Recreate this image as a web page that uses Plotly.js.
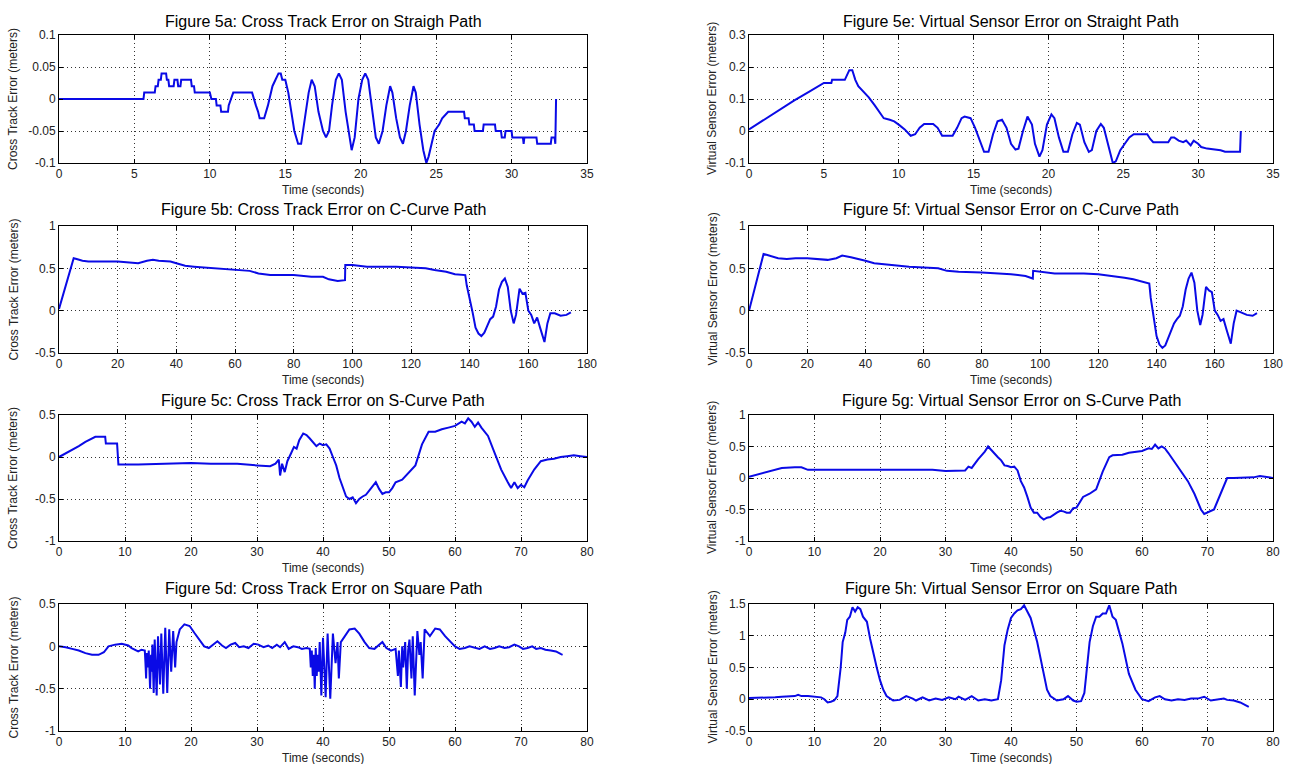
<!DOCTYPE html>
<html>
<head>
<meta charset="utf-8">
<script src="https://cdn.plot.ly/plotly-3.0.1.min.js"></script>
<style>html,body{margin:0;padding:0;background:#fff;}#chart{width:1293px;height:764px;}</style>
</head>
<body>
<div id="chart"></div>
<script>
// ---------- DATA ----------
const titles = [
  "Figure 5a: Cross Track Error on Straigh Path",
  "Figure 5b: Cross Track Error on C-Curve Path",
  "Figure 5c: Cross Track Error on S-Curve Path",
  "Figure 5d: Cross Track Error on Square Path",
  "Figure 5e: Virtual Sensor Error on Straight Path",
  "Figure 5f: Virtual Sensor Error on C-Curve Path",
  "Figure 5g: Virtual Sensor Error on S-Curve Path",
  "Figure 5h: Virtual Sensor Error on Square Path"
];
const xTitle = "Time (seconds)";
const yTitleLeft = "Cross Track Error (meters)";
const yTitleRight = "Virtual Sensor Error (meters)";

// 5a
const t5a = [0,5.6,5.65,6.35,6.4,6.55,6.6,6.75,6.8,7.1,7.15,7.25,7.3,7.6,7.65,7.85,7.9,8.05,8.1,8.75,8.8,8.95,9.0,10.0,10.1,10.4,10.45,10.7,10.75,11.2,11.25,11.4,11.55,12.8,12.9,13.05,13.2,13.3,13.6,13.7,13.85,13.95,14.05,14.15,14.35,14.55,14.7,14.8,15.0,15.1,15.2,15.4,15.6,15.85,16.05,16.3,16.55,16.75,16.95,17.2,17.5,17.7,17.9,18.1,18.35,18.55,18.75,19.0,19.25,19.4,19.6,19.85,20.1,20.3,20.5,20.75,21.0,21.2,21.45,21.7,21.95,22.1,22.35,22.6,22.8,23.0,23.25,23.5,23.65,23.9,24.15,24.35,24.5,24.7,24.9,25.2,25.4,25.8,26.85,26.9,27.15,27.2,27.5,27.55,28.1,28.15,28.9,28.95,29.3,29.35,29.55,29.6,30.0,30.05,30.75,30.8,30.85,31.65,31.7,32.6,32.65,32.85,32.9,32.95];
const e5a = [0,0,0.01,0.01,0.02,0.02,0.03,0.03,0.04,0.04,0.03,0.03,0.02,0.02,0.03,0.03,0.02,0.02,0.03,0.03,0.02,0.02,0.01,0.01,0,0,-0.01,-0.01,-0.02,-0.02,-0.01,0,0.01,0.01,0,-0.01,-0.02,-0.03,-0.03,-0.02,-0.01,0,0.01,0.02,0.03,0.04,0.04,0.03,0.03,0.02,0.01,-0.02,-0.05,-0.07,-0.07,-0.03,0.01,0.03,0.02,-0.02,-0.05,-0.06,-0.05,-0.01,0.03,0.04,0.03,-0.02,-0.06,-0.08,-0.06,0,0.03,0.04,0.03,-0.02,-0.06,-0.07,-0.05,-0.01,0.02,0.01,-0.03,-0.06,-0.07,-0.05,-0.01,0.02,0.01,-0.04,-0.08,-0.1,-0.09,-0.07,-0.05,-0.04,-0.03,-0.02,-0.02,-0.03,-0.03,-0.04,-0.04,-0.05,-0.05,-0.04,-0.04,-0.05,-0.05,-0.06,-0.06,-0.05,-0.05,-0.06,-0.06,-0.07,-0.06,-0.06,-0.07,-0.07,-0.06,-0.06,-0.07,0];

// 5b
const t5b = [0,1,2,3,4,5,6,8,10,15,20,24,27,30,32,34,38,40,43,46,50,55,60,65,68,72,80,86,90,92,95,97.5,97.6,100,105,110,115,120,125,128,132,135,138.5,139,140,141,142,143,144,145,146,147,148,149,150,151,152,153,154,155,155.8,156.5,157,158,159,160,161,162,163,164,165.5,166.5,167.5,169,171,173,174.5];
const e5b = [0.02,0.14,0.26,0.38,0.5,0.62,0.61,0.59,0.58,0.58,0.58,0.57,0.56,0.59,0.6,0.59,0.58,0.56,0.53,0.52,0.51,0.49,0.48,0.47,0.44,0.42,0.42,0.4,0.4,0.37,0.35,0.36,0.54,0.54,0.52,0.52,0.52,0.51,0.5,0.48,0.46,0.43,0.42,0.3,0.15,-0.02,-0.2,-0.27,-0.3,-0.26,-0.18,-0.1,-0.07,0.05,0.25,0.34,0.38,0.28,0,-0.15,-0.05,0.15,0.26,0.2,0.21,0,-0.05,-0.15,-0.08,-0.2,-0.37,-0.15,-0.03,-0.03,-0.06,-0.05,-0.02];

// 5c
const t5c = [0,1,2,3,4,5,5.5,7,7.1,8.8,9.0,12,15,20,23,27,30,32,32.8,33.3,33.5,33.8,34.2,34.6,35.2,35.6,36.0,36.4,37,37.5,38,38.5,39,39.5,40,40.5,41,41.5,42,42.5,43,43.5,44,44.5,45,45.5,46,46.5,47,47.5,48,48.5,49,49.5,50,50.5,51,52,53,54,55,56,57,58,59,60,61,61.5,62,62.5,63,63.5,64,65,66,67,68,68.5,69,69.5,70,70.5,71,72,73,74,75,76,77,78,79,80];
const e5c = [0,0.04,0.09,0.13,0.18,0.22,0.24,0.24,0.16,0.16,-0.09,-0.09,-0.08,-0.07,-0.08,-0.08,-0.1,-0.11,-0.08,-0.03,-0.22,-0.08,-0.18,-0.05,0.05,0.12,0.1,0.2,0.28,0.26,0.22,0.18,0.13,0.16,0.14,0.15,0.1,0,-0.1,-0.25,-0.35,-0.47,-0.5,-0.48,-0.55,-0.5,-0.47,-0.45,-0.4,-0.35,-0.3,-0.38,-0.44,-0.42,-0.42,-0.37,-0.3,-0.27,-0.18,-0.1,0.15,0.3,0.3,0.33,0.35,0.37,0.42,0.4,0.46,0.42,0.36,0.41,0.35,0.25,0.05,-0.15,-0.3,-0.37,-0.3,-0.37,-0.33,-0.36,-0.28,-0.15,-0.05,-0.03,-0.02,0,0.01,0.02,0.01,0];

// 5d
const t5d = [0,1,2,3,4,5,6,6.8,7.5,8.5,9.5,10.5,11,11.5,12,12.5,13,
  13.1,13.2,13.3,13.45,13.6,13.8,13.95,14.05,14.15,14.35,14.5,14.8,15.0,15.15,15.3,15.5,15.8,16.1,16.4,16.7,17.0,17.3,17.6,17.8,
  18.3,19,19.8,20.5,21.2,22,22.7,23.4,24,24.7,25.3,26,26.7,27.3,28,28.7,29.5,30.2,31,31.7,32.3,33,33.5,34.2,34.8,35.5,36.2,36.8,37.5,38,
  38.15,38.3,38.45,38.6,38.75,38.9,39.05,39.2,39.35,39.5,39.75,40.0,40.2,40.4,40.7,41.1,41.5,41.9,42.2,42.4,42.7,
  43.3,44,44.8,45.5,46.3,47,47.8,48.5,49,49.6,50.3,51,
  51.2,51.35,51.5,51.65,51.8,52.0,52.15,52.3,52.45,52.7,52.9,53.1,53.4,53.6,53.9,54.3,54.6,54.8,55.1,55.4,
  56.2,57,57.7,58.5,59.3,60,60.7,61.5,62.2,63,63.7,64.5,65.3,66,66.7,67.5,68.2,69,69.7,70.3,71,71.7,72.3,73,73.7,74.5,75.3,76,76.3];
const e5d = [0,-0.01,-0.03,-0.05,-0.08,-0.1,-0.1,-0.07,0,0.02,0.03,0.01,-0.02,-0.04,-0.06,-0.04,-0.05,
  -0.2,-0.38,-0.08,-0.25,-0.05,-0.5,-0.1,-0.3,0.02,-0.55,0.08,-0.58,0.12,-0.2,-0.45,0.15,-0.56,0.22,-0.55,0.2,-0.3,0.18,-0.25,0.05,
  0.2,0.26,0.24,0.16,0.08,0,-0.02,0.02,0.06,0.01,-0.02,0.02,0.04,-0.01,0,-0.02,0.03,0.02,-0.01,0.01,-0.02,0.02,-0.01,0.05,-0.03,0,-0.01,-0.03,-0.02,-0.03,
  -0.25,-0.05,-0.35,-0.1,-0.5,-0.02,-0.35,-0.1,-0.3,0.05,-0.58,0.1,-0.2,-0.6,0.15,-0.62,0.15,-0.2,0.05,-0.38,0.05,
  0.12,0.2,0.21,0.15,0.05,-0.02,-0.03,0.02,0.05,-0.02,-0.05,-0.03,
  -0.2,-0.35,-0.05,-0.3,-0.48,0,-0.25,-0.1,0.05,-0.5,-0.05,0.08,-0.38,0.12,-0.58,0.18,-0.1,0.05,-0.38,0.2,
  0.12,0.21,0.2,0.12,0.05,0,-0.03,-0.02,0,-0.02,-0.03,0,-0.03,-0.02,0,-0.02,-0.01,0.02,0,-0.03,-0.02,0,-0.03,-0.02,-0.04,-0.05,-0.06,-0.09,-0.1];

// 5e
const t5e = [0,1,2,3,4,5,5.5,5.55,6.4,6.5,6.7,6.9,7.1,7.3,7.6,8.0,8.4,8.8,9.0,9.4,9.7,10.0,10.4,10.8,11.1,11.4,11.7,12.3,12.6,12.9,13.6,13.9,14.2,14.4,14.8,15.1,15.4,15.7,16.0,16.3,16.6,16.9,17.2,17.5,17.8,18.0,18.3,18.6,18.9,19.1,19.4,19.6,19.9,20.2,20.4,20.7,21.0,21.3,21.6,21.9,22.1,22.4,22.7,22.9,23.2,23.5,23.7,24.0,24.3,24.5,24.8,25.1,25.4,25.7,26.6,26.8,27.0,28.0,28.2,28.4,28.7,29.0,29.2,29.5,29.7,30.0,30.2,30.6,31.5,31.8,32.5,32.8,32.85];
const e5e = [0.005,0.035,0.065,0.095,0.122,0.15,0.15,0.16,0.16,0.17,0.19,0.19,0.16,0.14,0.125,0.105,0.08,0.055,0.04,0.035,0.03,0.02,0.005,-0.015,-0.01,0.01,0.022,0.022,0.01,-0.015,-0.015,0.01,0.04,0.045,0.04,0.01,-0.03,-0.065,-0.065,-0.01,0.03,0.035,0.01,-0.04,-0.058,-0.055,0,0.045,0.02,-0.04,-0.08,-0.06,0.02,0.052,0.04,-0.02,-0.065,-0.065,-0.01,0.025,0.02,-0.035,-0.065,-0.06,0,0.022,0.01,-0.05,-0.1,-0.095,-0.06,-0.04,-0.02,-0.01,-0.01,-0.025,-0.035,-0.035,-0.02,-0.02,-0.03,-0.035,-0.03,-0.045,-0.03,-0.04,-0.05,-0.055,-0.06,-0.065,-0.065,-0.065,0];

// 5f
const t5f = [0,1,2,3,4,5,6,8,10,13,16,20,24,27,30,32,35,38,40,43,46,50,55,60,65,68,72,80,85,90,95,97.5,97.6,100,105,110,115,120,125,129,132,135,137.5,138,139,140,141,142,143,144,145,146,147,148,149,150,151,152,153,154,155,155.8,156.5,157,158,159,160,161,162,163,164,165.5,166.5,167.5,169,171,173,174.5];
const e5f = [0,0.13,0.27,0.4,0.54,0.67,0.66,0.64,0.62,0.61,0.62,0.62,0.61,0.6,0.62,0.65,0.63,0.61,0.59,0.56,0.55,0.53,0.52,0.51,0.5,0.47,0.46,0.45,0.44,0.43,0.41,0.38,0.47,0.46,0.44,0.44,0.44,0.43,0.41,0.39,0.37,0.34,0.32,0.15,-0.1,-0.3,-0.4,-0.44,-0.41,-0.33,-0.25,-0.15,-0.1,-0.06,0.05,0.25,0.38,0.45,0.33,0,-0.17,-0.05,0.15,0.28,0.24,0.22,0,-0.05,-0.12,-0.1,-0.22,-0.39,-0.15,0,-0.02,-0.05,-0.06,-0.03];

// 5g
const t5g = [0,1,2,3,4,5,7,8,9,12,15,20,25,28,30,32,33,33.5,34,35,36,36.5,37,38,38.5,39,39.5,40,40.5,41,41.5,42,42.5,43,43.5,44,44.5,45,45.5,46,47,47.5,48,48.5,49,49.5,50,51,52,53,54,55,55.5,57,58,59,60,61,61.5,62,62.5,63,63.5,64,65,66,67,68,69,69.5,70,71,72,73,74,75,76,77,78,79,80];
const e5g = [0.02,0.05,0.08,0.11,0.14,0.16,0.17,0.17,0.13,0.13,0.13,0.14,0.13,0.13,0.11,0.11,0.12,0.18,0.16,0.3,0.42,0.5,0.44,0.33,0.28,0.2,0.19,0.17,0.18,0.12,-0.05,-0.15,-0.3,-0.47,-0.55,-0.55,-0.62,-0.66,-0.63,-0.62,-0.55,-0.52,-0.53,-0.55,-0.55,-0.48,-0.47,-0.3,-0.25,-0.18,0.1,0.33,0.36,0.37,0.4,0.42,0.43,0.47,0.46,0.53,0.47,0.5,0.47,0.4,0.25,0.1,-0.05,-0.25,-0.5,-0.57,-0.55,-0.5,-0.25,0,0,0,0.01,0.01,0.03,0.01,0];

// 5h
const t5h = [0,1,2,3,4,5,6,7,7.5,8,9,10,11,11.5,12,12.5,13,13.5,14,14.3,14.7,15,15.4,15.8,16.2,16.6,17,17.4,18,18.5,19,19.5,20,20.5,21,22,23,24,25,25.5,26.5,27.5,28.5,29.5,30.5,31.5,32,33,34,35,36,37,38,38.5,39,39.5,40,40.5,41,41.5,42,42.5,43,44,45,45.5,46,47,48,48.7,49.5,50,50.7,51.2,51.5,52,52.5,53,53.5,54,54.5,55,55.5,56,57,58,59,60,61,62,62.7,63.5,64.5,65.5,66.5,67.5,68.5,69.5,70.5,71.5,72.5,73,74,75,76.3];
const e5h = [0.02,0.02,0.02,0.03,0.03,0.04,0.04,0.05,0.07,0.05,0.05,0.04,0.03,0,-0.05,-0.04,-0.02,0.05,0.5,0.9,1.05,1.25,1.3,1.45,1.38,1.45,1.42,1.3,1.22,0.95,0.7,0.5,0.3,0.15,0.05,-0.02,-0.01,0.05,0.01,-0.02,0.03,-0.02,0.01,-0.01,0.03,0,0.04,-0.01,0.05,-0.02,0,-0.02,0,0.3,0.85,1.1,1.28,1.35,1.4,1.42,1.48,1.38,1.28,0.9,0.4,0.15,0.05,-0.02,0,0.05,-0.02,-0.04,-0.03,0.1,0.4,0.9,1.15,1.3,1.3,1.35,1.35,1.48,1.3,1.25,0.88,0.4,0.15,0,-0.03,0.03,0.05,0,-0.02,0,-0.01,0.01,0.01,0.04,-0.02,0,0.01,-0.01,-0.02,-0.05,-0.12];

// tick values / labels
const xTicks35 = [0,5,10,15,20,25,30,35];
const xTicks180 = [0,20,40,60,80,100,120,140,160,180];
const xTicks80 = [0,10,20,30,40,50,60,70,80];
const yTicks5a = [-0.1,-0.05,0,0.05,0.1];
const yLabels5a = ["-0.1","-0.05","0","0.05","0.1"];
const yTicks5e = [-0.1,0,0.1,0.2,0.3];
const yLabels5e = ["-0.1","0","0.1","0.2","0.3"];
const yTicksBF = [-0.5,0,0.5,1];
const yLabelsBF = ["-0.5","0","0.5","1"];
const yTicksCD = [-1,-0.5,0,0.5];
const yLabelsCD = ["-1","-0.5","0","0.5"];
const yTicksG = [-1,-0.5,0,0.5,1];
const yLabelsG = ["-1","-0.5","0","0.5","1"];
const yTicksH = [-0.5,0,0.5,1,1.5];
const yLabelsH = ["-0.5","0","0.5","1","1.5"];

// ---------- LAYOUT ----------
const W = 1293, H = 764;
const px = p => p / W;
const py = p => 1 - p / H;
const colX = [[59, 587], [749, 1273]];
const rowY = [[35, 163], [226, 353], [415, 541], [604, 731]];
const titleY = [21, 209, 400, 588];
const yTitleX = [13, 712];

const panels = [
  {t: t5a, e: e5a, col: 0, row: 0, xr: [0,35], xt: xTicks35, yr: [-0.1,0.1], yt: yTicks5a, yl: yLabels5a},
  {t: t5b, e: e5b, col: 0, row: 1, xr: [0,180], xt: xTicks180, yr: [-0.5,1], yt: yTicksBF, yl: yLabelsBF},
  {t: t5c, e: e5c, col: 0, row: 2, xr: [0,80], xt: xTicks80, yr: [-1,0.5], yt: yTicksCD, yl: yLabelsCD},
  {t: t5d, e: e5d, col: 0, row: 3, xr: [0,80], xt: xTicks80, yr: [-1,0.5], yt: yTicksCD, yl: yLabelsCD},
  {t: t5e, e: e5e, col: 1, row: 0, xr: [0,35], xt: xTicks35, yr: [-0.1,0.3], yt: yTicks5e, yl: yLabels5e},
  {t: t5f, e: e5f, col: 1, row: 1, xr: [0,180], xt: xTicks180, yr: [-0.5,1], yt: yTicksBF, yl: yLabelsBF},
  {t: t5g, e: e5g, col: 1, row: 2, xr: [0,80], xt: xTicks80, yr: [-1,1], yt: yTicksG, yl: yLabelsG},
  {t: t5h, e: e5h, col: 1, row: 3, xr: [0,80], xt: xTicks80, yr: [-0.5,1.5], yt: yTicksH, yl: yLabelsH}
];

const FONT = "Liberation Sans, Arial, sans-serif";
const traces = [];
const layout = {
  width: W, height: H,
  margin: {l: 0, r: 0, t: 0, b: 0},
  paper_bgcolor: "#ffffff",
  plot_bgcolor: "#ffffff",
  showlegend: false,
  font: {family: FONT, color: "#111", size: 12},
  annotations: []
};

panels.forEach((p, i) => {
  const n = i + 1;
  const xk = n === 1 ? "x" : "x" + n;
  const yk = n === 1 ? "y" : "y" + n;
  traces.push({
    x: p.t, y: p.e, xaxis: xk, yaxis: yk,
    type: "scatter", mode: "lines",
    line: {color: "#0a0ae6", width: 2},
    hoverinfo: "skip"
  });
  const common = {
    showline: true, mirror: "ticks", linecolor: "#000", linewidth: 1,
    ticks: "inside", ticklen: 4, tickcolor: "#000",
    showgrid: true, gridcolor: "#333", griddash: "1px,3px", gridwidth: 1,
    zeroline: false, fixedrange: true,
    tickfont: {family: FONT, size: 12, color: "#222"}
  };
  layout["xaxis" + (n === 1 ? "" : n)] = Object.assign({}, common, {
    domain: [px(colX[p.col][0]), px(colX[p.col][1])],
    range: p.xr, tickmode: "array", tickvals: p.xt,
    ticktext: p.xt.map(String),
    anchor: yk
  });
  layout["yaxis" + (n === 1 ? "" : n)] = Object.assign({}, common, {
    domain: [py(rowY[p.row][1]), py(rowY[p.row][0])],
    range: p.yr, tickmode: "array", tickvals: p.yt, ticktext: p.yl,
    anchor: xk
  });
  const cx = (colX[p.col][0] + colX[p.col][1]) / 2;
  layout.annotations.push({
    text: titles[i], xref: "paper", yref: "paper",
    x: px(cx), y: py(titleY[p.row]), xanchor: "center", yanchor: "middle",
    showarrow: false, font: {family: FONT, size: 16, color: "#000"}
  });
  layout.annotations.push({
    text: xTitle, xref: "paper", yref: "paper",
    x: px(cx), y: py(rowY[p.row][1] + 27), xanchor: "center", yanchor: "middle",
    showarrow: false, font: {family: FONT, size: 12, color: "#222"}
  });
  layout.annotations.push({
    text: p.col === 0 ? yTitleLeft : yTitleRight, xref: "paper", yref: "paper",
    x: px(yTitleX[p.col]), y: py((rowY[p.row][0] + rowY[p.row][1]) / 2),
    xanchor: "center", yanchor: "middle", textangle: -90,
    showarrow: false, font: {family: FONT, size: 12, color: "#222"}
  });
});

Plotly.newPlot("chart", traces, layout, {displayModeBar: false, staticPlot: true});
</script>
</body>
</html>
